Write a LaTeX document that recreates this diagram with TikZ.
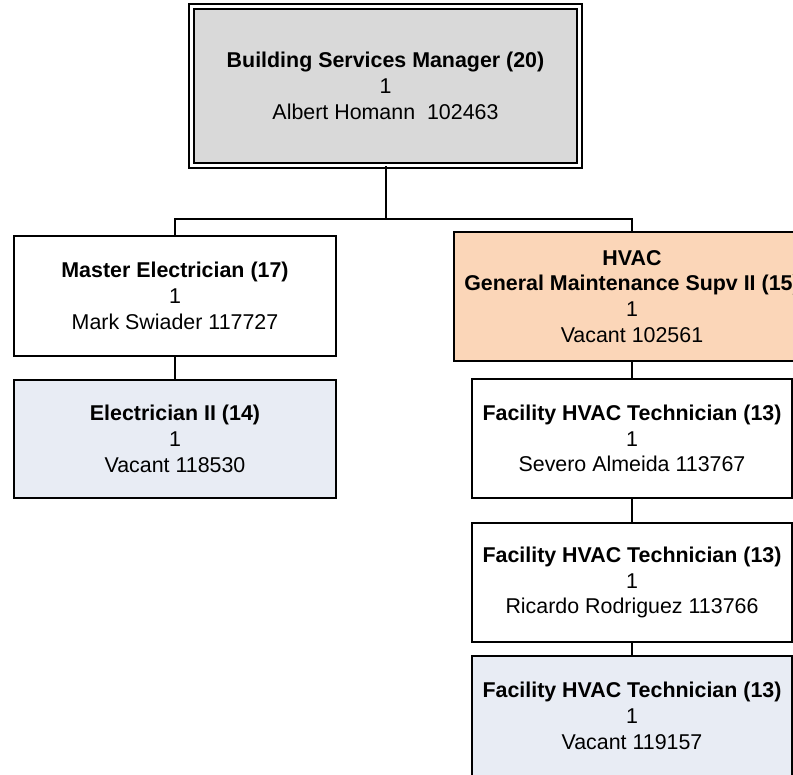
\documentclass[tikz,border=0pt]{standalone}
\usepackage{fontspec}
\setmainfont{Liberation Sans}
\definecolor{topgray}{HTML}{D9D9D9}
\definecolor{peach}{HTML}{FBD6B8}
\definecolor{paleblue}{HTML}{E8ECF4}
\tikzset{
  box/.style={draw=black, line width=2pt, rectangle, align=center, inner sep=0pt,
    font=\fontsize{21.4}{25.8}\selectfont},
  conn/.style={draw=black, line width=2pt},
}
\begin{document}
\begin{tikzpicture}[x=1pt,y=-1pt]
\useasboundingbox (0,0) rectangle (793,775);
\clip (0,0) rectangle (793,775);
\fill[white] (0,0) rectangle (793,775);
% top box
\node[box, fill=topgray, double=white, double distance=2.6pt, line width=1.8pt,
      minimum width=388pt, minimum height=159pt] (top) at (385.5,86)
  {\textbf{Building Services Manager (20)}\\1\\Albert Homann\ \ 102463};
% left column
\node[box, fill=white, minimum width=322pt, minimum height=120pt] (m1) at (175,296)
  {\textbf{Master Electrician (17)}\\1\\Mark Swiader 117727};
\node[box, fill=paleblue, minimum width=322pt, minimum height=118pt] (m2) at (175,439)
  {\textbf{Electrician II (14)}\\1\\Vacant 118530};
% right column
\node[box, fill=peach, minimum width=356pt, minimum height=129pt] (h1) at (632,296.5)
  {\textbf{HVAC}\\\textbf{General Maintenance Supv II (15)}\\1\\Vacant 102561};
\node[box, fill=white, minimum width=320pt, minimum height=119pt] (h2) at (632,438.5)
  {\textbf{Facility HVAC Technician (13)}\\1\\Severo Almeida 113767};
\node[box, fill=white, minimum width=320pt, minimum height=119pt] (h3) at (632,582.5)
  {\textbf{Facility HVAC Technician (13)}\\1\\Ricardo Rodriguez 113766};
\node[box, fill=paleblue, minimum width=320pt, minimum height=120pt] (h4) at (632,716)
  {\textbf{Facility HVAC Technician (13)}\\1\\Vacant 119157};
% connectors
\coordinate (bus) at (385.5,219);
\draw[conn] (top.south) -- (bus);
\draw[conn] (m1.north) -- (m1.north |- bus) -- (h1.north |- bus) -- (h1.north);
\draw[conn] (m1.south) -- (m2.north);
\draw[conn] (h1.south) -- (h2.north);
\draw[conn] (h2.south) -- (h3.north);
\draw[conn] (h3.south) -- (h4.north);
\end{tikzpicture}
\end{document}
